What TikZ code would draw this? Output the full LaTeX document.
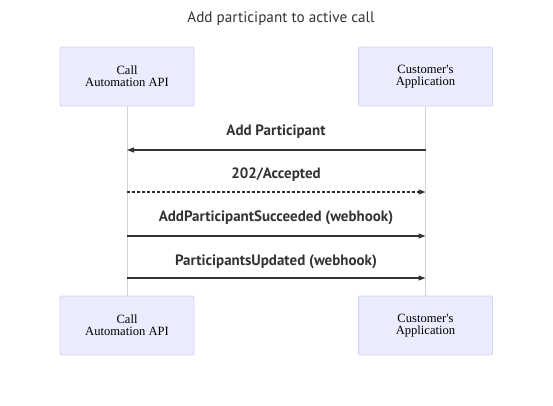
\documentclass[tikz,border=0pt]{standalone}
\usepackage{fontspec}
\setmainfont{Liberation Serif}
\newfontfamily\actorfont{Liberation Serif}
\newfontfamily\msgfont{PT Sans}
\usetikzlibrary{arrows.meta}
\definecolor{boxfill}{HTML}{ECECFF}
\definecolor{boxline}{HTML}{D4D0F5}
\definecolor{lifeline}{HTML}{D3D3D3}
\definecolor{msgline}{HTML}{333333}

\tikzset{
  actor/.style={draw=boxline, fill=boxfill, rounded corners=2pt, line width=0.8pt,
    minimum width=134pt, minimum height=59pt, align=center,
    font=\actorfont\fontsize{12.6}{12}\selectfont, inner sep=0pt},
  msg/.style={draw=msgline, line width=1.1pt, -{Triangle[length=7pt,width=5pt]}},
  msglabel/.style={font=\msgfont\bfseries\fontsize{15}{15}\selectfont, text=msgline}
}

\begin{document}
\begin{tikzpicture}[x=1pt, y=-1pt]
		\useasboundingbox (0,0) rectangle (553,405);
		\node[font=\msgfont\fontsize{15.2}{15}\selectfont, text=msgline] (title) at (281,19) {Add participant to active call};
		
		% actors
		\node[actor] (apitop) at (127,76.5) {Call\\Automation API};
		\node[actor] (apptop) at (425.5,76.5) {Customer's\\Application};
		\node[actor] (apibot) at (127,325.5) {Call\\Automation API};
		\node[actor] (appbot) at (425.5,325.5) {Customer's\\Application};
		
		% lifelines
		\draw[lifeline, line width=1pt] (apitop.south) -- (apibot.north);
		\draw[lifeline, line width=1pt] (apptop.south) -- (appbot.north);
		
		% messages
		\coordinate (api1) at (127,150);  \coordinate (app1) at (425.5,150);
		\coordinate (api2) at (127,192);  \coordinate (app2) at (425.5,192);
		\coordinate (api3) at (127,236);  \coordinate (app3) at (425.5,236);
		\coordinate (api4) at (127,278);  \coordinate (app4) at (425.5,278);
		
		\draw[msg] (app1) -- (api1);
		\draw[msg, dashed, dash pattern=on 2.5pt off 2.5pt] (api2) -- (app2);
		\draw[msg] (api3) -- (app3);
		\draw[msg] (api4) -- (app4);
		
		\begin{scope}[msglabel]
			\node (lab1) at (276,132) {Add Participant};
			\node (lab2) at (276,175) {202/Accepted};
			\node (lab3) at (276,218) {AddParticipantSucceeded (webhook)};
			\node (lab4) at (276,262) {ParticipantsUpdated (webhook)};
		\end{scope}
	\end{tikzpicture}
\end{document}
